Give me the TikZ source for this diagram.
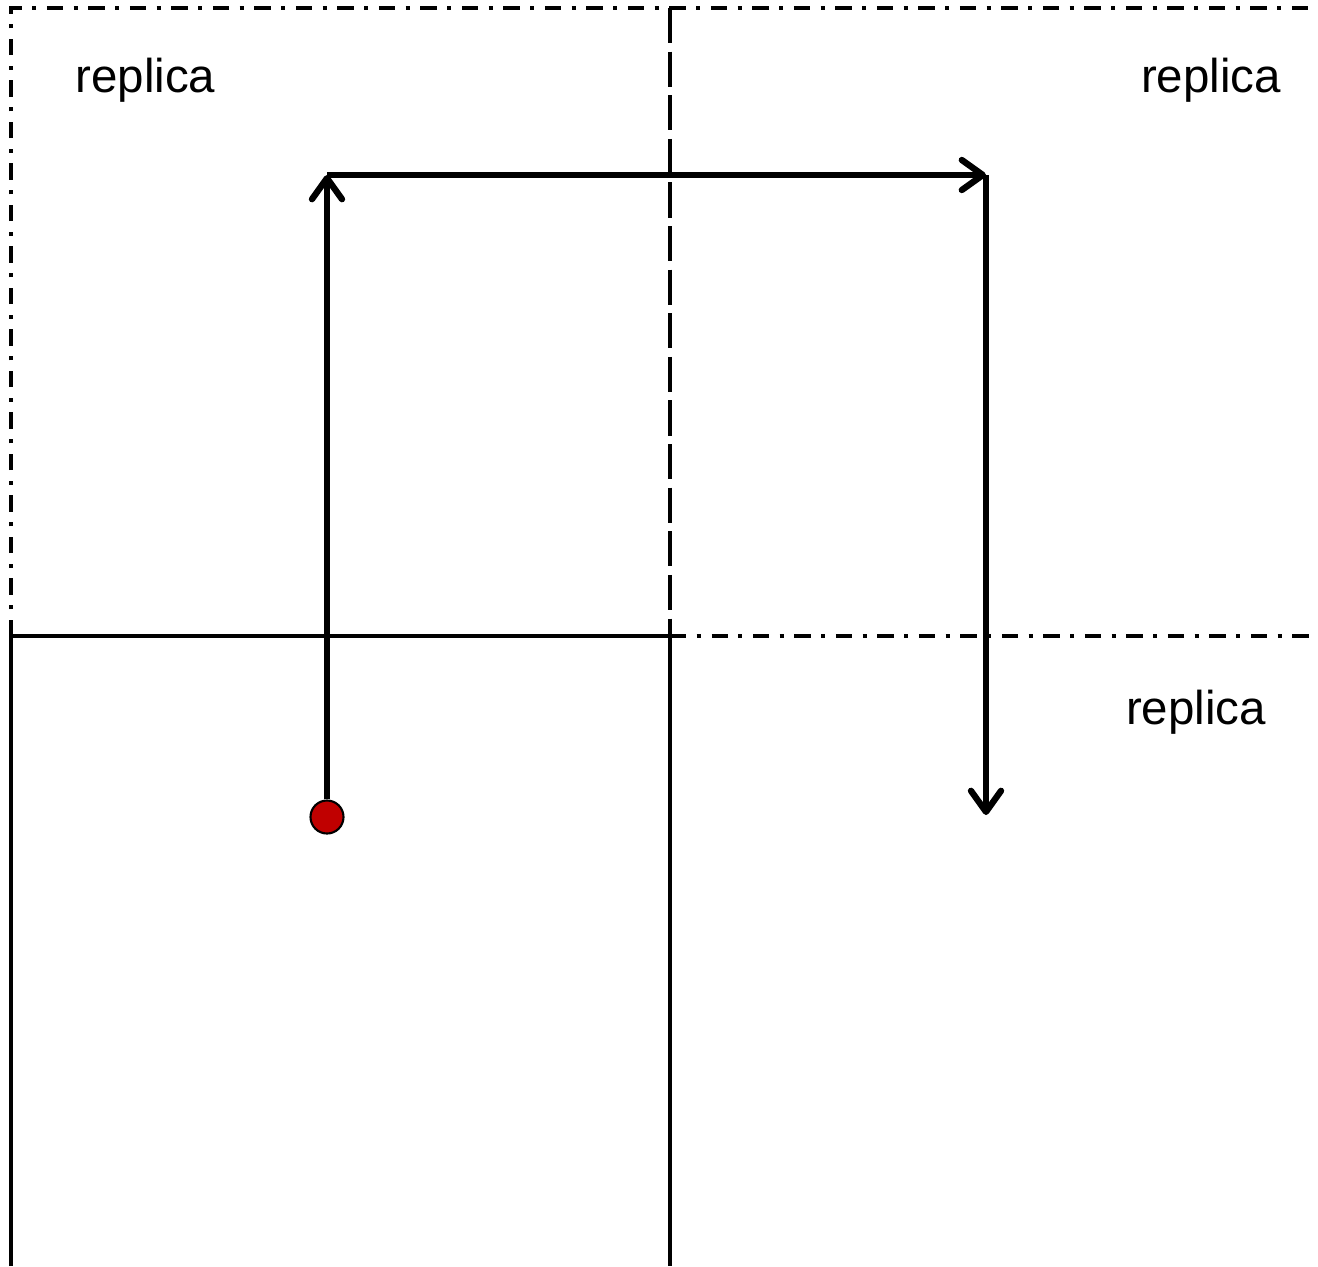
\documentclass[tikz,border=0pt]{standalone}
\usepackage{fontspec}
\setmainfont{Liberation Sans}
\usetikzlibrary{arrows.meta}
\definecolor{particlecol}{RGB}{192,0,0}
\tikzset{
  lab/.style={font=\fontsize{13.5}{16}\selectfont,anchor=base},
  cell/.style={line width=1.2pt},
  ghost/.style={line width=1.2pt,dash pattern=on 4.6pt off 3pt on 1.2pt off 3pt},
  seam/.style={line width=1.2pt,dash pattern=on 10pt off 2.4pt},
  hop/.style={line width=1.8pt,-{Straight Barb[round,length=2.1mm,width=3mm]}},
  particle/.style={draw,circle,fill=particlecol,line width=0.6pt,inner sep=0pt,minimum size=0.33cm},
}

\begin{document}
\begin{tikzpicture}[x=0.01cm,y=-0.01cm]
  \useasboundingbox (0,0) rectangle (1318,1266);
  % periodic images
  \draw[ghost] (11,636) -- (11,8) -- (1318,8);
  \draw[ghost] (670,636) -- (1318,636);
  \draw[seam] (670,8) -- (670,636);
  % simulation cell
  \draw[cell] (11,1266) -- (11,636) -- (670,636);
  \draw[cell] (670,636) -- (670,1266);
  \node[lab] (repTL) at (145.5,92) {replica};
  \node[lab] (repTR) at (1211,92) {replica};
  \node[lab] (repBR) at (1196,724) {replica};
  % path of the particle
  \node[particle] (atom) at (327,817) {};
  \coordinate (up) at (327,175);
  \coordinate (over) at (986,175);
  \coordinate (down) at (986,815);
  \draw[hop] (atom) -- (up);
  \draw[hop] (up) -- (over);
  \draw[hop] (over) -- (down);
\end{tikzpicture}
\end{document}
